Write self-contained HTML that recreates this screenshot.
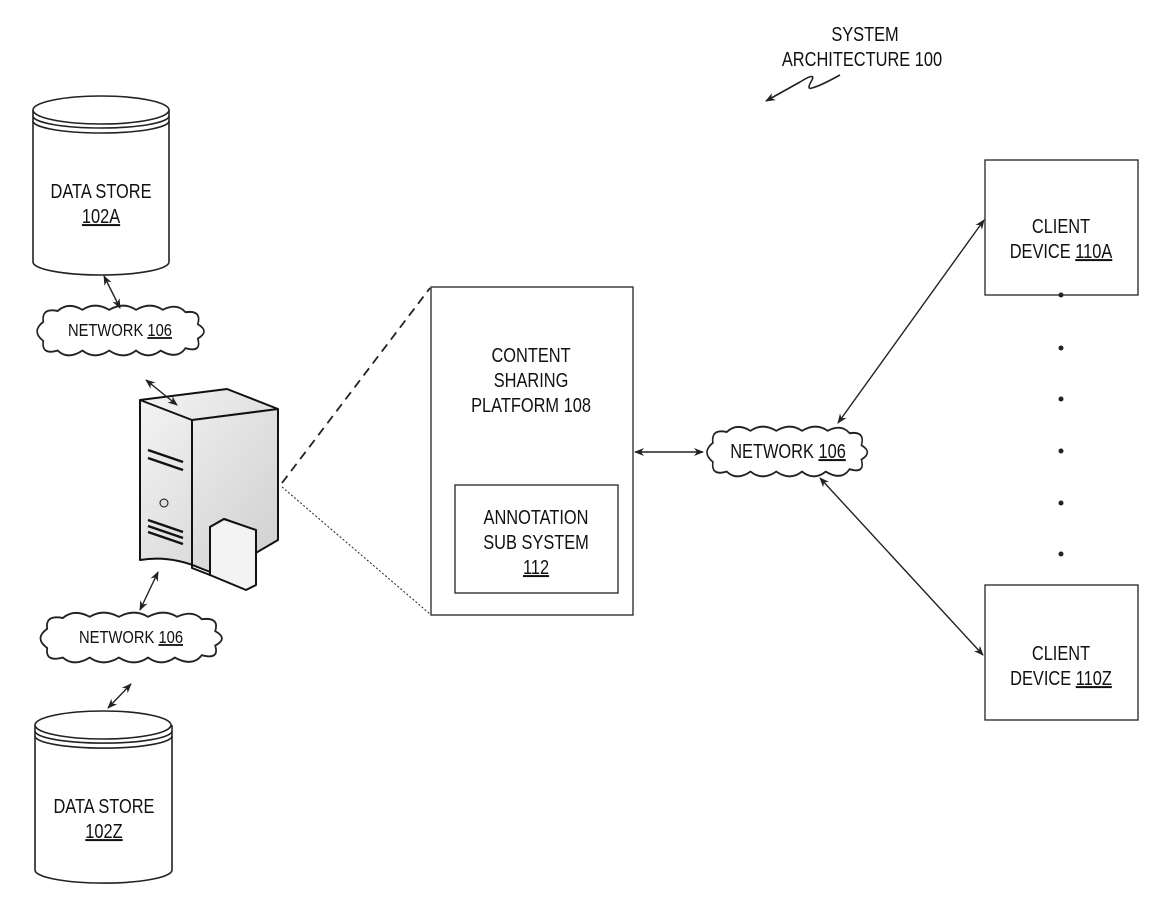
<!DOCTYPE html>
<html><head><meta charset="utf-8"><style>
html,body{margin:0;padding:0;background:#fff;}
svg{display:block;}
text{font-family:"Liberation Sans",sans-serif;fill:#111;}
</style></head><body>
<svg width="1170" height="910" viewBox="0 0 1170 910" xmlns="http://www.w3.org/2000/svg">
<defs>
<marker id="ah" viewBox="0 0 10 10" refX="9" refY="5" markerWidth="10" markerHeight="10" orient="auto-start-reverse" markerUnits="userSpaceOnUse"><path d="M0,1 L10,5 L0,9 L3,5 Z" fill="#222"/></marker>
<linearGradient id="sg" x1="0" y1="0" x2="1" y2="1"><stop offset="0" stop-color="#f4f4f4"/><stop offset="1" stop-color="#cfcfcf"/></linearGradient>
<path id="cloud" d="M10,14 Q8,2 24,5 Q34,-3 48,4 Q60,-3 74,4 Q88,-3 100,4 Q114,-3 126,4 Q140,-2 148,6 Q164,4 160,16 Q172,22 160,28 Q164,40 148,36 Q140,46 124,38 Q112,46 100,38 Q88,46 74,38 Q60,46 48,38 Q34,46 24,38 Q8,42 10,30 Q-2,22 10,14 Z"/>
</defs>
<g stroke="#222" stroke-width="1.6" fill="#fff">
<path d="M33,110 L33,262 A68,13 0 0 0 169,262 L169,110"/>
<ellipse cx="101" cy="110" rx="68" ry="14"/>
<path d="M33,116 A68,12 0 0 0 169,116" fill="none"/>
<path d="M33,121 A68,12 0 0 0 169,121" fill="none"/>
<path d="M35,725 L35,870 A68,13 0 0 0 172,870 L172,725"/>
<ellipse cx="103" cy="725" rx="68" ry="14"/>
<path d="M35,731 A68,12 0 0 0 172,731" fill="none"/>
<path d="M35,736 A68,12 0 0 0 172,736" fill="none"/>
</g>
<g stroke="#222" stroke-width="1.6" fill="#fff">
<use href="#cloud" transform="translate(33,305) scale(1.03,1.2)"/>
<use href="#cloud" transform="translate(36,612) scale(1.12,1.2)"/>
<use href="#cloud" transform="translate(703,426) scale(0.99,1.2)"/>
</g>
<g stroke="#111" stroke-width="2" stroke-linejoin="round">
<path d="M140,400 L227,389 L278,409 L278,540 L218,575 L200,568 Q170,555 140,560 Z" fill="url(#sg)"/>
<path d="M140,400 L192,420 L278,409 M192,420 L192,560" fill="none"/>
<path d="M192,420 L192,568 L210,575 L210,527 L224,519 L246,527 L246,555" fill="none"/>
<path d="M210,527 L224,519 L256,530 L256,585 L246,590 L210,575 Z" fill="#f3f3f3"/>
<path d="M148,450 L183,462 M148,458 L183,470 M148,520 L183,532 M148,526 L183,538 M148,532 L183,544" fill="none" stroke-width="2.5"/>
<circle cx="164" cy="503" r="4" fill="#ddd" stroke-width="1"/>
</g>
<g stroke="#222" stroke-width="1.4" fill="none">
<line x1="104" y1="276" x2="120" y2="308" marker-start="url(#ah)" marker-end="url(#ah)"/>
<line x1="146" y1="380" x2="177" y2="405" marker-start="url(#ah)" marker-end="url(#ah)"/>
<line x1="158" y1="572" x2="140" y2="610" marker-start="url(#ah)" marker-end="url(#ah)"/>
<line x1="131" y1="684" x2="108" y2="708" marker-start="url(#ah)" marker-end="url(#ah)"/>
<line x1="282" y1="483" x2="430" y2="288" stroke-dasharray="9,6" stroke-width="1.8"/>
<line x1="282" y1="487" x2="430" y2="614" stroke-dasharray="2,2" stroke-width="1"/>
<line x1="635" y1="452" x2="703" y2="452" marker-start="url(#ah)" marker-end="url(#ah)"/>
<line x1="838" y1="423" x2="984" y2="220" marker-start="url(#ah)" marker-end="url(#ah)"/>
<line x1="820" y1="478" x2="983" y2="655" marker-start="url(#ah)" marker-end="url(#ah)"/>
<path d="M840,75 Q820,86 812,88 Q806,90 812,80 Q816,72 800,82 L766,101" marker-end="url(#ah)" stroke-width="1.6"/>
</g>
<g stroke="#333" stroke-width="1.4" fill="#fff">
<rect x="431" y="287" width="202" height="328"/>
<rect x="455" y="485" width="163" height="108"/>
<rect x="985" y="160" width="153" height="135"/>
<rect x="985" y="585" width="153" height="135"/>
</g>
<g fill="#222">
<circle cx="1061" cy="295" r="2.5"/><circle cx="1061" cy="348" r="2.5"/><circle cx="1061" cy="399" r="2.5"/>
<circle cx="1061" cy="451" r="2.5"/><circle cx="1061" cy="503" r="2.5"/><circle cx="1061" cy="554" r="2.5"/>
</g>
<g font-size="20" text-anchor="middle" transform="scale(0.82,1)">
<text x="1054.9" y="41">SYSTEM</text>
<text x="1051.2" y="66">ARCHITECTURE 100</text>
<text x="123.2" y="198">DATA STORE</text>
<text x="123.2" y="223" text-decoration="underline">102A</text>
<text x="126.8" y="813">DATA STORE</text>
<text x="126.8" y="838" text-decoration="underline">102Z</text>
<text x="647.6" y="362">CONTENT</text>
<text x="647.6" y="387">SHARING</text>
<text x="647.6" y="412">PLATFORM 108</text>
<text x="653.7" y="524">ANNOTATION</text>
<text x="653.7" y="549">SUB SYSTEM</text>
<text x="653.7" y="574" text-decoration="underline">112</text>
<text x="1293.9" y="233">CLIENT</text>
<text x="1293.9" y="258">DEVICE <tspan text-decoration="underline">110A</tspan></text>
<text x="1293.9" y="660">CLIENT</text>
<text x="1293.9" y="685">DEVICE <tspan text-decoration="underline">110Z</tspan></text>
<text x="961" y="458">NETWORK <tspan text-decoration="underline">106</tspan></text>
</g>
<g font-size="18" text-anchor="middle" transform="scale(0.82,1)">
<text x="146.3" y="336">NETWORK <tspan text-decoration="underline">106</tspan></text>
<text x="159.8" y="643">NETWORK <tspan text-decoration="underline">106</tspan></text>
</g>
</svg>
</body></html>
